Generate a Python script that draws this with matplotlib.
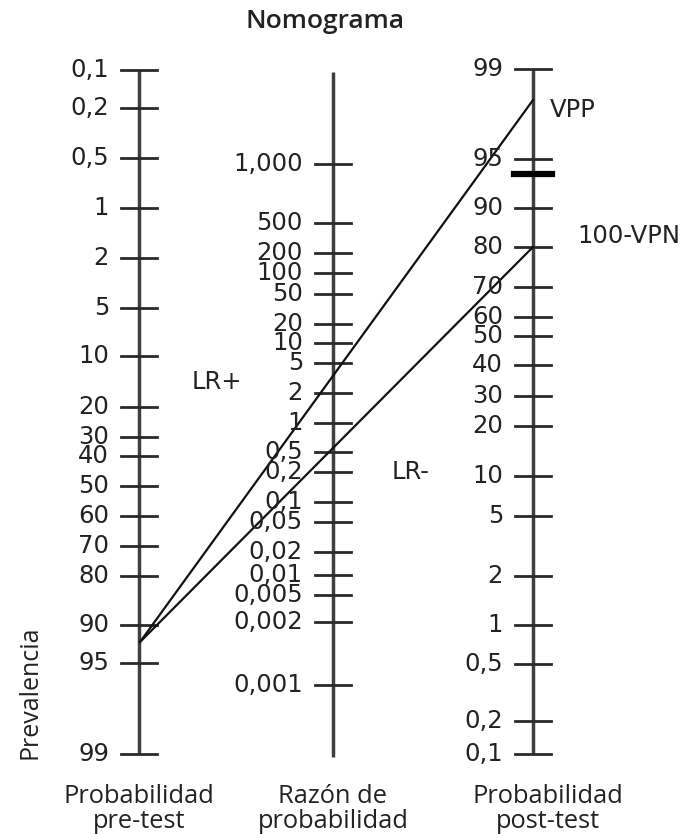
import matplotlib
matplotlib.use("Agg")
import matplotlib.pyplot as plt

# valores (posicion vertical en pixeles de la imagen)
pre_labels = ['0,1', '0,2', '0,5', '1', '2', '5', '10', '20', '30', '40', '50',
              '60', '70', '80', '90', '95', '99']
pre_pos = [70, 108, 158, 208, 258, 308, 356, 407, 437, 456, 486, 516, 546, 576,
           625, 663, 754]

lr_labels = ['1,000', '500', '200', '100', '50', '20', '10', '5', '2', '1', '0,5',
             '0,2', '0,1', '0,05', '0,02', '0,01', '0,005', '0,002', '0,001']
lr_pos = [164, 223, 253, 273, 294, 324, 343, 363, 393, 423, 452, 472, 502, 522,
          552, 575, 595, 622, 685]

post_labels = ['99', '95', '90', '80', '70', '60', '50', '40', '30', '20', '10',
               '5', '2', '1', '0,5', '0,2', '0,1']
post_pos = [69, 159, 208, 247, 287, 317, 336, 365, 396, 426, 476, 516, 576, 625,
            664, 721, 754]
post_mark = 174   # marca gruesa sin etiqueta

# rectas: prevalencia -> VPP y prevalencia -> 100-VPN
prev_y = 642
vpp_y = 100
vpn_y = 247

x_pre, x_lr, x_post = 139, 333, 533
axis_col = '#404040'
txt_col = '#222222'
fs = 17.5

fig = plt.figure(figsize=(6.92, 8.34), dpi=100)
ax = fig.add_axes([0, 0, 1, 1])
ax.set_xlim(0, 692)
ax.set_ylim(834, 0)
ax.axis('off')

def draw_scale(x, labels, pos, top, bottom, half=18):
    ax.plot([x, x], [top, bottom], color=axis_col, lw=2.5, solid_capstyle='butt')
    for lab, y in zip(labels, pos):
        ax.plot([x - half, x + half], [y, y], color='#2a2a2a', lw=2.0)
        ax.text(x - half - 12, y, lab, ha='right', va='center', fontsize=fs,
                color=txt_col, family=['DejaVu Sans'])

draw_scale(x_pre, pre_labels, pre_pos, 70, 754)
draw_scale(x_lr, lr_labels, lr_pos, 72, 757)
draw_scale(x_post, post_labels, post_pos, 69, 754)
ax.plot([x_post - 19, x_post + 19], [post_mark, post_mark], color='black', lw=4.5)

# lineas del nomograma
ax.plot([x_pre + 1, x_post], [prev_y, vpp_y], color='#111111', lw=1.6)
ax.plot([x_pre + 1, x_post], [prev_y, vpn_y], color='#111111', lw=1.6)

ax.text(550, 110, 'VPP', ha='left', va='center', fontsize=fs, color=txt_col,
        family=['DejaVu Sans'])
ax.text(577, 236, '100-VPN', ha='left', va='center', fontsize=fs, color=txt_col,
        family=['DejaVu Sans'])
ax.text(192, 382, 'LR+', ha='left', va='center', fontsize=fs, color=txt_col,
        family=['DejaVu Sans'])
ax.text(392, 472, 'LR-', ha='left', va='center', fontsize=fs, color=txt_col,
        family=['DejaVu Sans'])

ax.text(325, 21, 'Nomograma', ha='center', va='center', fontsize=19,
        color=txt_col, family='Open Sans', weight='semibold')
ax.text(30, 692, 'Prevalencia', ha='center', va='center', rotation=90,
        fontsize=18, color=txt_col, family='Open Sans')

bottom = [('Probabilidad\npre-test', x_pre), ('Razón de\nprobabilidad', x_lr),
          ('Probabilidad\npost-test', 548)]
for lab, x in bottom:
    ax.text(x, 809, lab, ha='center', va='center', fontsize=18.3, color=txt_col,
            family='Open Sans', linespacing=1.05)

fig.savefig('out.png', dpi=100, facecolor='white')
